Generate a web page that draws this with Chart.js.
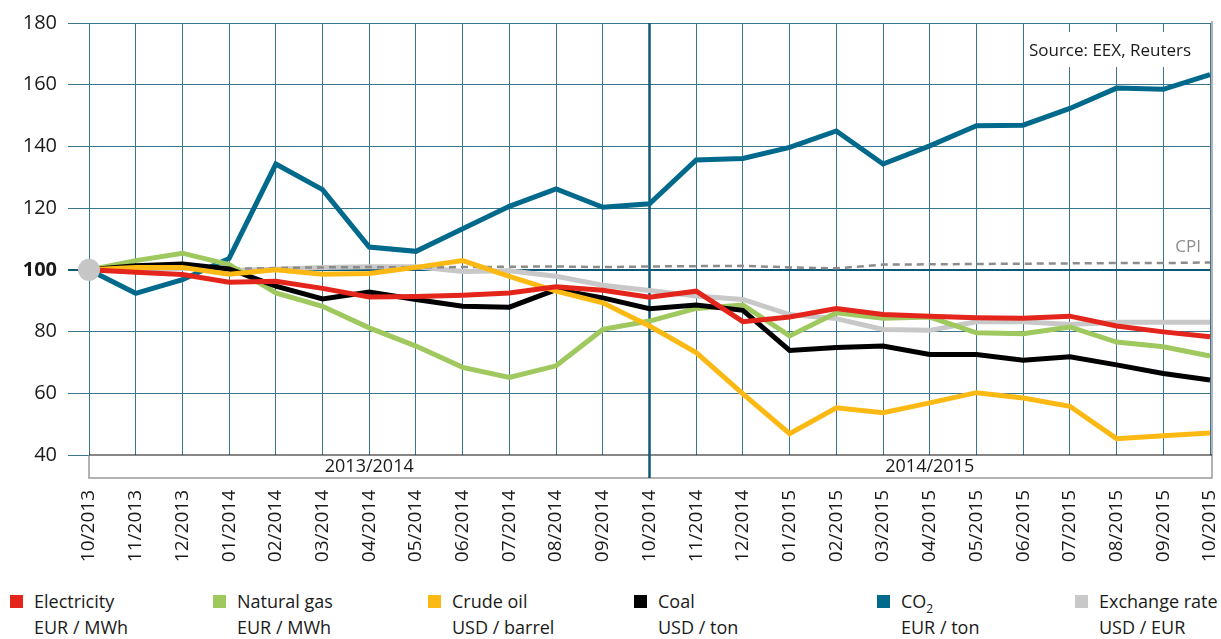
<!DOCTYPE html>
<html>
  <head>
    <meta charset="utf-8" />
    <title>Price development 10/2013 - 10/2015</title>
    <script src="https://cdn.jsdelivr.net/npm/chart.js"></script>
    <style>
      body {
        margin: 0;
        background: #fff;
        font-family: "Open Sans", sans-serif;
      }
      .wrap {
        position: relative;
        width: 1221px;
        height: 639px;
      }
      #priceChart {
        position: absolute;
        left: 0;
        top: 0;
      }
      .legend-item {
        position: absolute;
        top: 588px;
        font-size: 18px;
        line-height: 26px;
        color: #1a1a1a;
        white-space: nowrap;
      }
      .legend-item .sw {
        position: absolute;
        left: 0;
        top: 7px;
        width: 13px;
        height: 13px;
      }
      .legend-item .txt {
        margin-left: 24px;
      }
      .legend-item sub {
        font-size: 12px;
        line-height: 0;
      }
    </style>
  </head>

  <body>
    <div class="wrap">
      <canvas id="priceChart" width="1221" height="575"></canvas>
      <div id="legend"></div>
    </div>

    <script>
      // index values, 10/2013 = 100
      const months = [
        "10/2013", "11/2013", "12/2013", "01/2014", "02/2014", "03/2014",
        "04/2014", "05/2014", "06/2014", "07/2014", "08/2014", "09/2014",
        "10/2014", "11/2014", "12/2014", "01/2015", "02/2015", "03/2015",
        "04/2015", "05/2015", "06/2015", "07/2015", "08/2015", "09/2015",
        "10/2015",
      ];
      const electricity = [100, 99.2, 98.5, 96, 96.3, 94, 91.2, 91.4, 91.8, 92.5, 94.5, 93.4, 91.1, 93.1, 83.2, 84.7, 87.5, 85.5, 85, 84.5, 84.3, 85, 81.8, 79.9, 78.3];
      const naturalGas = [100, 103, 105.4, 101.7, 92.5, 88.2, 81.2, 75.3, 68.4, 65.1, 68.9, 80.7, 83.4, 87.5, 88.6, 78.6, 86.1, 84.3, 84.7, 79.6, 79.3, 81.5, 76.6, 75.1, 72.1];
      const crudeOil = [100, 100.8, 100.8, 98.6, 100, 98.6, 98.8, 100.8, 103, 97.9, 93.1, 89.3, 81.8, 73.2, 59.8, 46.9, 55.3, 53.7, 56.9, 60.2, 58.5, 55.8, 45.3, 46.2, 47.1];
      const coal = [100, 101.3, 101.9, 100.3, 94.7, 90.6, 92.8, 90.4, 88.2, 87.9, 93.6, 90.9, 87.4, 88.6, 86.9, 73.9, 74.8, 75.3, 72.6, 72.6, 70.7, 71.8, 69.2, 66.4, 64.3];
      const co2 = [100, 92.4, 96.8, 103.7, 134.3, 126, 107.4, 106, 113.3, 120.6, 126.2, 120.3, 121.4, 135.6, 136.1, 139.7, 145, 134.3, 140.2, 146.7, 146.9, 152.3, 158.9, 158.5, 163.3];
      const exchangeRate = [100, 100.3, 100.5, 99.8, 100.2, 100.8, 101, 101, 99.5, 99.7, 97.9, 95, 93.3, 91.5, 90.4, 85.5, 84.2, 80.7, 80.4, 83.2, 83.2, 82.3, 83, 83, 83];
      const cpi = [100, 100.4, 100.6, 100.3, 100.6, 100.8, 100.9, 100.8, 100.9, 101, 101.1, 100.9, 101.1, 101.2, 101.3, 100.8, 100.5, 101.7, 101.8, 101.9, 102, 102.1, 102.2, 102.2, 102.4];

      const periods = ["2013/2014", "2014/2015"];
      const periodStart = [0, 12, 24]; // month indexes of the period borders

      const seriesNames = ["Electricity", "Natural gas", "Crude oil", "Coal", "CO2", "Exchange rate"];
      const seriesUnits = ["EUR / MWh", "EUR / MWh", "USD / barrel", "USD / ton", "EUR / ton", "USD / EUR"];
      const seriesColors = ["#e3251b", "#9fc85e", "#fdb913", "#000000", "#00698c", "#c8c8c8"];
      const legendLeft = [10, 213, 428, 634, 877, 1075];

      const FONT = '"Open Sans", sans-serif';
      const GRID = "#3b7691";
      const DARK = "#0e5877";

      // legend in html, two lines per entry
      const legendEl = document.getElementById("legend");
      seriesNames.forEach((name, i) => {
        const item = document.createElement("div");
        item.className = "legend-item";
        item.style.left = legendLeft[i] + "px";
        item.innerHTML =
          '<span class="sw" style="background:' + seriesColors[i] + '"></span>' +
          '<div class="txt">' + name.replace("CO2", "CO<sub>2</sub>") + "</div>" +
          '<div class="txt">' + seriesUnits[i] + "</div>";
        legendEl.appendChild(item);
      });

      function line(label, data, color, order) {
        return {
          label: label,
          data: data,
          borderColor: color,
          backgroundColor: color,
          borderWidth: 5,
          pointRadius: 0,
          tension: 0,
          fill: false,
          order: order,
        };
      }

      const cpiLine = line("CPI", cpi, "#8c8c8c", 6);
      cpiLine.borderWidth = 2.5;
      cpiLine.borderDash = [7, 5];

      // grey start dot on top of everything
      const startDot = {
        label: "start",
        data: exchangeRate.map((v, i) => (i === 0 ? v : null)),
        showLine: false,
        pointRadius: 11,
        pointBackgroundColor: "#c6c6c6",
        pointBorderWidth: 0,
        clip: false,
        order: 0,
      };

      const overlay = {
        id: "overlay",
        beforeDatasetsDraw(chart) {
          const ctx = chart.ctx;
          const a = chart.chartArea;
          const x = chart.scales.x;
          ctx.save();

          // period band under the plot
          const bTop = a.bottom;
          const bBot = a.bottom + 23;
          const bRight = a.right + 2;
          ctx.fillStyle = "#fff";
          ctx.fillRect(a.left, bTop, bRight - a.left, bBot - bTop);
          ctx.strokeStyle = "#9a9a9a";
          ctx.lineWidth = 1.5;
          ctx.beginPath();
          ctx.moveTo(a.left, bTop);
          ctx.lineTo(a.left, bBot);
          ctx.lineTo(bRight, bBot);
          ctx.lineTo(bRight, 21);
          ctx.stroke();
          ctx.strokeStyle = "#111";
          ctx.lineWidth = 1.2;
          ctx.beginPath();
          ctx.moveTo(a.left, bTop);
          ctx.lineTo(bRight, bTop);
          ctx.stroke();

          ctx.fillStyle = "#1a1a1a";
          ctx.font = "18px " + FONT;
          ctx.textAlign = "center";
          ctx.textBaseline = "middle";
          periods.forEach((p, i) => {
            const x0 = x.getPixelForValue(periodStart[i]);
            const x1 = x.getPixelForValue(periodStart[i + 1]);
            ctx.fillText(p, (x0 + x1) / 2, bTop + 12);
          });

          // year split line
          const xs = x.getPixelForValue(periodStart[1]);
          ctx.strokeStyle = DARK;
          ctx.lineWidth = 2.5;
          ctx.beginPath();
          ctx.moveTo(xs, a.top);
          ctx.lineTo(xs, bBot);
          ctx.stroke();

          // source box
          const sx = a.right - 185;
          ctx.fillStyle = "#fff";
          ctx.fillRect(sx, a.top + 9, 170, 35);
          ctx.fillStyle = "#1a1a1a";
          ctx.font = "17px " + FONT;
          ctx.fillText("Source: EEX, Reuters", sx + 85, a.top + 28);

          // CPI label
          ctx.fillStyle = "#8c8c8c";
          ctx.textAlign = "right";
          ctx.fillText("CPI", a.right - 9, chart.scales.y.getPixelForValue(107.5));
          ctx.restore();
        },
      };

      new Chart(document.getElementById("priceChart"), {
        type: "line",
        data: {
          labels: months,
          datasets: [
            startDot,
            line("Electricity", electricity, seriesColors[0], 1),
            line("Crude oil", crudeOil, seriesColors[2], 2),
            line("Coal", coal, seriesColors[3], 3),
            line("Natural gas", naturalGas, seriesColors[1], 4),
            line("CO2", co2, seriesColors[4], 5),
            cpiLine,
            line("Exchange rate", exchangeRate, seriesColors[5], 7),
          ],
        },
        options: {
          responsive: false,
          animation: false,
          layout: { padding: { top: 21, right: 8, left: 0, bottom: 0 } },
          plugins: {
            legend: { display: false },
            tooltip: { enabled: false },
          },
          scales: {
            x: {
              offset: false,
              border: { display: false },
              grid: { color: GRID, lineWidth: 1, drawTicks: false },
              ticks: {
                autoSkip: false,
                minRotation: 90,
                maxRotation: 90,
                padding: 35,
                color: "#1a1a1a",
                font: { size: 19, family: FONT },
              },
              afterFit(s) {
                s.paddingLeft = 0;
                s.paddingRight = 0;
                s.height = 120;
              },
            },
            y: {
              min: 40,
              max: 180,
              border: { display: false },
              grid: {
                color: (c) => (c.tick && c.tick.value === 100 ? DARK : GRID),
                lineWidth: (c) => (c.tick && c.tick.value === 100 ? 2 : 1),
                tickLength: 21,
              },
              ticks: {
                stepSize: 20,
                padding: 11,
                color: "#1a1a1a",
                font: (c) => ({
                  size: 20,
                  family: FONT,
                  weight: c.tick && c.tick.value === 100 ? "bold" : "normal",
                }),
              },
              afterFit(s) {
                s.width = 89;
              },
            },
          },
        },
        plugins: [overlay],
      });
    </script>
  </body>
</html>
